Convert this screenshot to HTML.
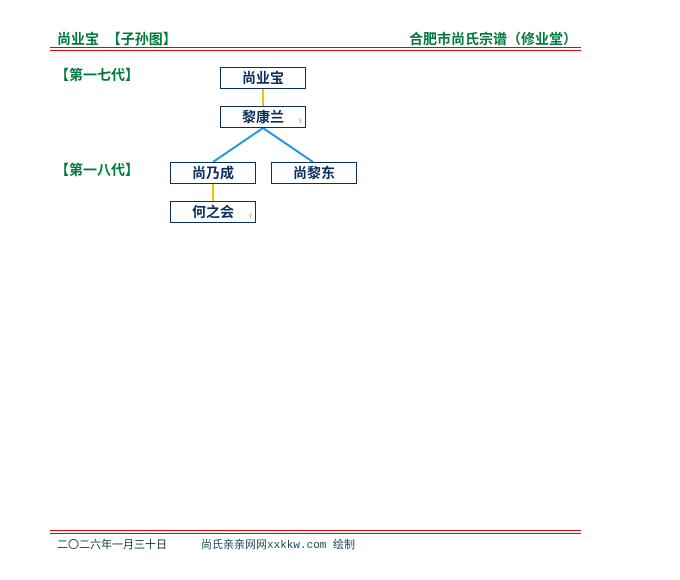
<!DOCTYPE html>
<html><head><meta charset="utf-8"><style>
body{margin:0;width:680px;height:580px;background:#fff;position:relative;font-family:"Liberation Sans","Noto Sans CJK SC",sans-serif;overflow:hidden}
.t{position:absolute;white-space:nowrap}
.g{color:#007a3d;font-weight:bold;font-size:14px}
.b{position:absolute;width:84px;height:20px;border:1px solid #0b2f5b;box-sizing:content-box;text-align:center;line-height:20px;font-size:14px;font-weight:bold;color:#0b2f5b}
.f{position:absolute;font-size:10px;color:#7ab33a;right:1px;bottom:0px;font-weight:normal;line-height:10px}
</style></head><body>
<div class="t g" style="left:57px;top:29px">尚业宝&nbsp;&nbsp;【子孙图】</div>
<div class="t g" style="right:103px;top:29px">合肥市尚氏宗谱（修业堂）</div>
<div style="position:absolute;left:50px;top:47px;width:531px;height:1px;background:#e00"></div>
<div style="position:absolute;left:50px;top:50px;width:531px;height:1px;background:#e00"></div>
<div class="t g" style="left:55px;top:65px">【第一七代】</div>
<div class="t g" style="left:55px;top:160px">【第一八代】</div>
<svg style="position:absolute;left:0;top:0" width="680" height="580">
<line x1="263" y1="89" x2="263" y2="106" stroke="#f5c000" stroke-width="2"/>
<line x1="263" y1="128" x2="213" y2="162" stroke="#1e96e6" stroke-width="2"/>
<line x1="263" y1="128" x2="313" y2="162" stroke="#1e96e6" stroke-width="2"/>
<line x1="213" y1="184" x2="213" y2="201" stroke="#f5c000" stroke-width="2"/>
</svg>
<div class="b" style="left:220px;top:67px">尚业宝</div>
<div class="b" style="left:220px;top:106px">黎康兰<span class="f">♀</span></div>
<div class="b" style="left:170px;top:162px">尚乃成</div>
<div class="b" style="left:271px;top:162px">尚黎东</div>
<div class="b" style="left:170px;top:201px">何之会<span class="f">♀</span></div>
<div style="position:absolute;left:50px;top:530px;width:531px;height:1px;background:#e00"></div>
<div style="position:absolute;left:50px;top:533px;width:531px;height:1px;background:#e00"></div>
<div class="t" style="left:57px;top:536px;font-size:11px;color:#0b3d2a">二〇二六年一月三十日</div>
<div class="t" style="left:201px;top:536px;font-size:11px;color:#1a4a5a;font-family:'Liberation Mono','Noto Sans CJK SC',monospace">尚氏亲亲网网xxkkw.com 绘制</div>
</body></html>
